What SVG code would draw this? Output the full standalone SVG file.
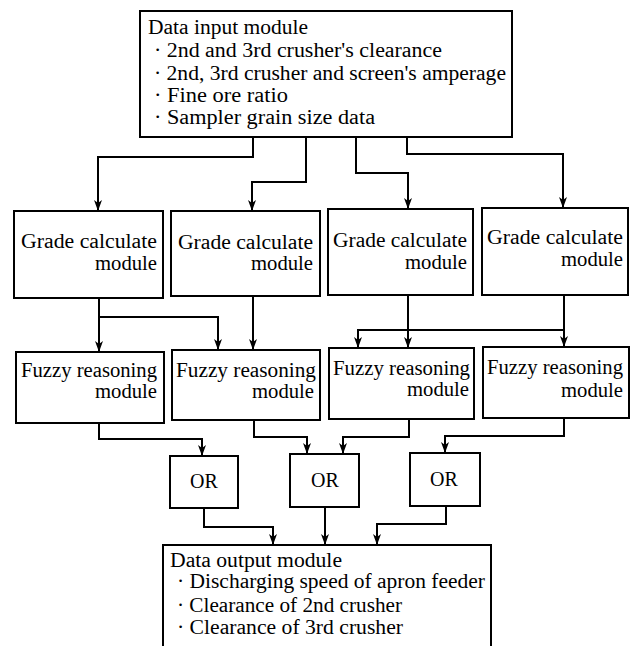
<svg xmlns="http://www.w3.org/2000/svg" width="631" height="646" viewBox="0 0 631 646">
<defs>
<style>
.box{fill:#fff;stroke:#000;stroke-width:2}
text{font-family:"Liberation Serif","Times New Roman",serif;font-size:20px;fill:#000}
.m{text-anchor:middle}
.c{fill:none;stroke:#000;stroke-width:2;marker-end:url(#ah)}
</style>
<marker id="ah" markerUnits="userSpaceOnUse" markerWidth="12" markerHeight="10" refX="11" refY="5" orient="auto" viewBox="0 0 12 10">
<path d="M0,1 L11,5 L0,9 L3,5 z" fill="#000"/>
</marker>
</defs>
<rect width="631" height="646" fill="#fff"/>

<g id="connectors">
<path class="c" d="M253,137 V157 H98 V211"/>
<path class="c" d="M306,137 V182 H252 V211"/>
<path class="c" d="M356,137 V173 H408 V209"/>
<path class="c" d="M407,137 V154 H563 V208"/>
<path class="c" d="M99,298 V352"/>
<path class="c" d="M99,317 H218 V350"/>
<path class="c" d="M253,296 V350"/>
<path class="c" d="M408,295 V348"/>
<path class="c" d="M564,295 V347"/>
<path class="c" d="M564,330 H358 V348"/>
<path class="c" d="M99,423 V439 H202 V456"/>
<path class="c" d="M254,420 V437 H307 V454"/>
<path class="c" d="M409,419 V437 H343 V454"/>
<path class="c" d="M564,418 V436 H445 V453"/>
<path class="c" d="M204,508 V527 H273 V545"/>
<path class="c" d="M325,507 V545"/>
<path class="c" d="M446,506 V524 H377 V545"/>
</g>

<g id="input">
<rect class="box" x="140" y="11" width="372" height="126"/>
<text x="148" y="34" textLength="160" lengthAdjust="spacingAndGlyphs">Data input module</text>
<text x="154" y="57" textLength="288" lengthAdjust="spacingAndGlyphs">· 2nd and 3rd crusher's clearance</text>
<text x="154" y="80" textLength="352" lengthAdjust="spacingAndGlyphs">· 2nd, 3rd crusher and screen's amperage</text>
<text x="154" y="102" textLength="134" lengthAdjust="spacingAndGlyphs">· Fine ore ratio</text>
<text x="154" y="124" textLength="221" lengthAdjust="spacingAndGlyphs">· Sampler grain size data</text>
</g>

<g id="grade1">
<rect class="box" x="14" y="211" width="149" height="87"/>
<text x="21" y="248" textLength="136" lengthAdjust="spacingAndGlyphs">Grade calculate</text>
<text x="95" y="270" textLength="62" lengthAdjust="spacingAndGlyphs">module</text>
</g>
<g id="grade2">
<rect class="box" x="171" y="211" width="149" height="85"/>
<text x="178" y="249" textLength="135" lengthAdjust="spacingAndGlyphs">Grade calculate</text>
<text x="251" y="270" textLength="62" lengthAdjust="spacingAndGlyphs">module</text>
</g>
<g id="grade3">
<rect class="box" x="328" y="209" width="145" height="86"/>
<text x="333" y="247" textLength="134" lengthAdjust="spacingAndGlyphs">Grade calculate</text>
<text x="405" y="269" textLength="62" lengthAdjust="spacingAndGlyphs">module</text>
</g>
<g id="grade4">
<rect class="box" x="482" y="208" width="146" height="87"/>
<text x="487" y="244" textLength="136" lengthAdjust="spacingAndGlyphs">Grade calculate</text>
<text x="561" y="266" textLength="62" lengthAdjust="spacingAndGlyphs">module</text>
</g>

<g id="fuzzy1">
<rect class="box" x="16" y="352" width="148" height="71"/>
<text x="21" y="377" textLength="136" lengthAdjust="spacingAndGlyphs">Fuzzy reasoning</text>
<text x="95" y="398" textLength="62" lengthAdjust="spacingAndGlyphs">module</text>
</g>
<g id="fuzzy2">
<rect class="box" x="172" y="350" width="148" height="70"/>
<text x="176" y="377" textLength="140" lengthAdjust="spacingAndGlyphs">Fuzzy reasoning</text>
<text x="252" y="398" textLength="62" lengthAdjust="spacingAndGlyphs">module</text>
</g>
<g id="fuzzy3">
<rect class="box" x="329" y="348" width="145" height="71"/>
<text x="333" y="375" textLength="137" lengthAdjust="spacingAndGlyphs">Fuzzy reasoning</text>
<text x="407" y="396" textLength="62" lengthAdjust="spacingAndGlyphs">module</text>
</g>
<g id="fuzzy4">
<rect class="box" x="483" y="347" width="146" height="71"/>
<text x="487" y="374" textLength="136" lengthAdjust="spacingAndGlyphs">Fuzzy reasoning</text>
<text x="561" y="397" textLength="62" lengthAdjust="spacingAndGlyphs">module</text>
</g>

<g id="or1">
<rect class="box" x="170" y="456" width="68" height="52"/>
<text class="m" x="204" y="488">OR</text>
</g>
<g id="or2">
<rect class="box" x="290" y="454" width="69" height="53"/>
<text class="m" x="325" y="487">OR</text>
</g>
<g id="or3">
<rect class="box" x="410" y="453" width="70" height="53"/>
<text class="m" x="444" y="486">OR</text>
</g>

<g id="output">
<rect class="box" x="163" y="545" width="328" height="102"/>
<text x="170" y="567" textLength="172" lengthAdjust="spacingAndGlyphs">Data output module</text>
<text x="177" y="588" textLength="308" lengthAdjust="spacingAndGlyphs">· Discharging speed of apron feeder</text>
<text x="177" y="612" textLength="225" lengthAdjust="spacingAndGlyphs">· Clearance of 2nd crusher</text>
<text x="177" y="634" textLength="226" lengthAdjust="spacingAndGlyphs">· Clearance of 3rd crusher</text>
</g>
</svg>
